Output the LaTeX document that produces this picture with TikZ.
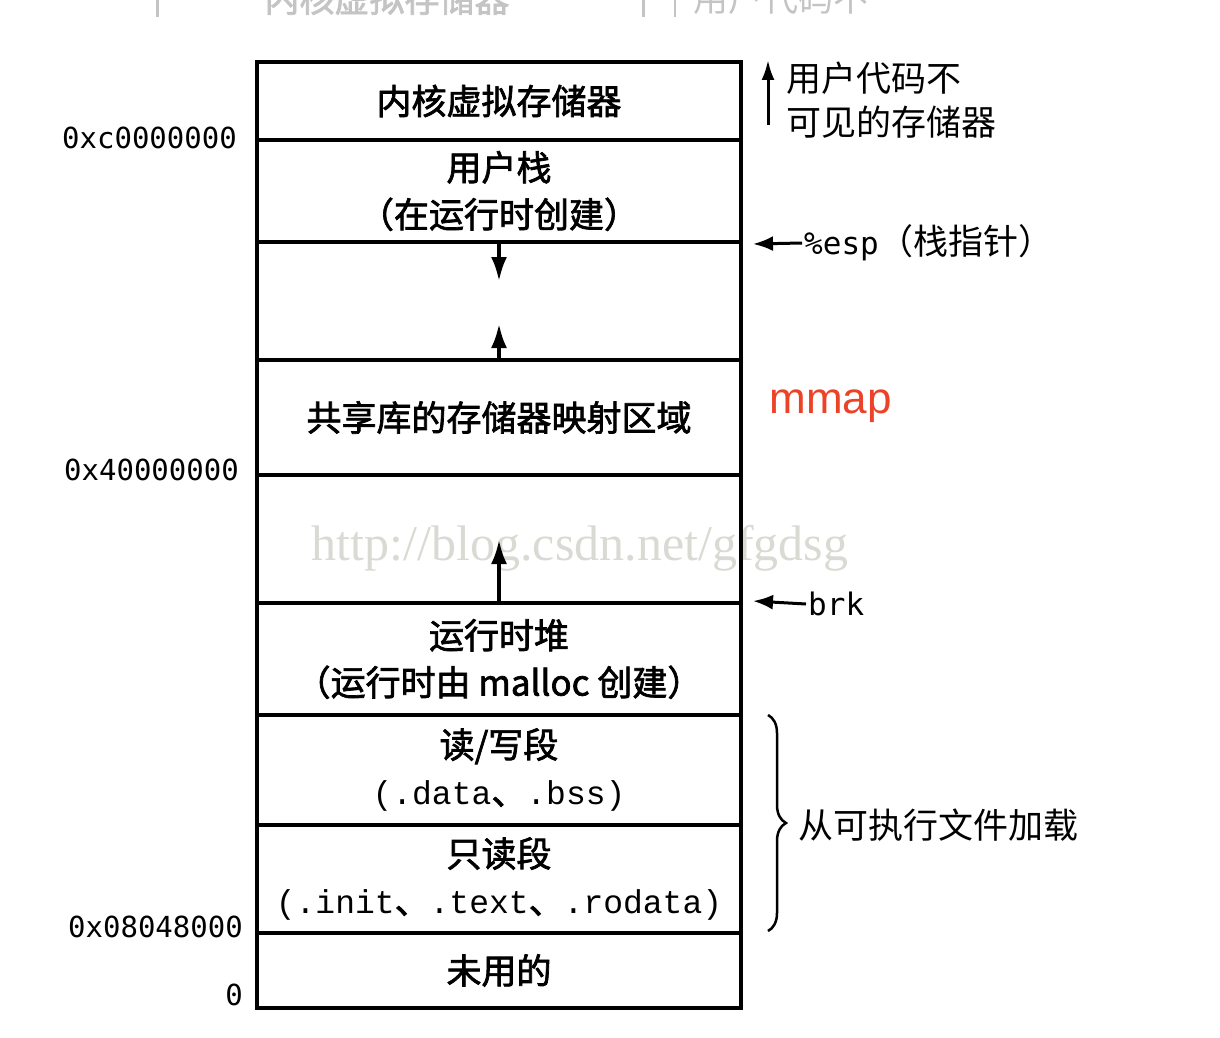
\documentclass[tikz,border=0pt]{standalone}
\usepackage{fontspec}
\setmainfont{Noto Sans CJK SC}
\setmonofont{Liberation Mono}
\newfontfamily\cjkb[FakeBold=2]{Noto Sans CJK SC}
\newfontfamily\addrfont{DejaVu Sans Mono}
\newfontfamily\wmfont{Liberation Serif}
\newfontfamily\mmapfont{Liberation Sans}
\usetikzlibrary{positioning, arrows.meta, decorations.pathreplacing, calc}
\definecolor{mmapred}{RGB}{235,66,40}
\definecolor{ghostgray}{RGB}{196,196,196}
\definecolor{wmgray}{RGB}{218,218,212}
\newcommand{\code}[1]{{\ttfamily\fontsize{33}{47}\selectfont #1}}

\tikzset{
	seg/.style={draw, line width=4pt, minimum width=484pt, inner sep=0pt, align=center, font=\cjkb\fontsize{35}{47}\selectfont},
	addr/.style={anchor=east, inner sep=0pt, font=\addrfont\fontsize{29}{29}\selectfont},
	side/.style={anchor=west, align=left, inner sep=2pt, font=\fontsize{35}{44}\selectfont},
	growarrow/.style={line width=3.5pt, -{Latex[length=24pt,width=16pt]}},
	ptr/.style={line width=3pt, {Latex[length=20pt,width=15pt]}-},
}

\begin{document}
\begin{tikzpicture}[x=1pt, y=-1pt]
		\useasboundingbox (0,0) rectangle (1220,1038);
		
		\begin{scope}
		\clip (0,0) rectangle (1220,1038);
		\node[anchor=base, text=ghostgray, font=\cjkb\fontsize{35}{35}\selectfont] (ghostk) at (387,12) {内核虚拟存储器};
		\node[anchor=base west, text=ghostgray, font=\fontsize{35}{35}\selectfont] (ghostu) at (690,12) {用户代码不};
		\draw[ghostgray, line width=3pt] (157,0) -- (157,17);
		\draw[ghostgray, line width=3pt] (643,0) -- (643,17);
		\draw[ghostgray, line width=2pt] (675,0) -- (675,17);
		\end{scope}
		
		\node[text=wmgray, font=\wmfont\fontsize{50}{50}\selectfont] (wmark) at (580,548) {http://blog.csdn.net/gfgdsg};
		
		\node[seg, minimum height=78pt] (kernel) at (499,101) {内核虚拟存储器};
		\node[seg, minimum height=102pt] (stack) at (499,191) {用户栈\\（在运行时创建）};
		\node[seg, minimum height=118pt] (gapa) at (499,301) {};
		\node[seg, minimum height=115pt] (shlib) at (499,417.5) {共享库的存储器映射区域};
		\node[seg, minimum height=128pt] (gapb) at (499,539) {};
		\node[seg, minimum height=112pt] (heap) at (499,659) {运行时堆\\（运行时由 malloc 创建）};
		\node[seg, minimum height=110pt] (rwseg) at (499,770) {读/写段\\\code{(.data}、\code{.bss)}};
		\node[seg, minimum height=108pt] (roseg) at (499,879) {只读段\\\code{(.init}、\code{.text}、\code{.rodata)}};
		\node[seg, minimum height=75pt] (unused) at (499,970.5) {未用的};
		
		\node[addr] (akern) at (237,138) {0xc0000000};
		\node[addr] (ashlib) at (239,470) {0x40000000};
		\node[addr] (atext) at (243,927) {0x08048000};
		\node[addr] (azero) at (243,995) {0};
		
		\coordinate (stacktip) at ($(gapa.north)+(0,41)$);
		\coordinate (mmaptip) at ($(gapa.south)+(0,-38)$);
		\coordinate (heaptip) at ($(gapb.south)+(0,-65)$);
		\draw[growarrow] (gapa.north) -- (stacktip);
		\draw[growarrow] (gapa.south) -- (mmaptip);
		\draw[growarrow] (gapb.south) -- (heaptip);
		
		\coordinate (hidbot) at (768,125);
		\coordinate (hidtop) at (768,60);
		\draw[line width=3pt, -{Latex[length=20pt,width=13pt]}] (hidbot) -- (hidtop);
		\node[side] (hidden) at (784,100) {用户代码不\\可见的存储器};
		
		\node[side] (esp) at (802,243) {{\addrfont\fontsize{31}{31}\selectfont\%esp}（栈指针）};
		\coordinate (esptip) at ($(stack.south east)+(10,0)$);
		\draw[ptr] (esptip) -- (esp.west);
		
		\node[anchor=base west, text=mmapred, font=\mmapfont\fontsize{44}{44}\selectfont] (mmaplbl) at (766,413) {mmap};
		
		\node[side] (brk) at (806,604) {\addrfont\fontsize{31}{31}\selectfont brk};
		\coordinate (brktip) at ($(heap.north east)+(10,0)$);
		\draw[ptr] (brktip) -- (brk.west);
		
		\coordinate (loadtop) at (768,715);
		\coordinate (loadbot) at (768,931);
		\draw[line width=2.5pt, decorate, decoration={brace, amplitude=18pt}] (loadtop) -- (loadbot);
		\node[side] (loaded) at (796,825) {从可执行文件加载};
		
		%%\node at (499,1020) {};
\end{tikzpicture}
\end{document}
